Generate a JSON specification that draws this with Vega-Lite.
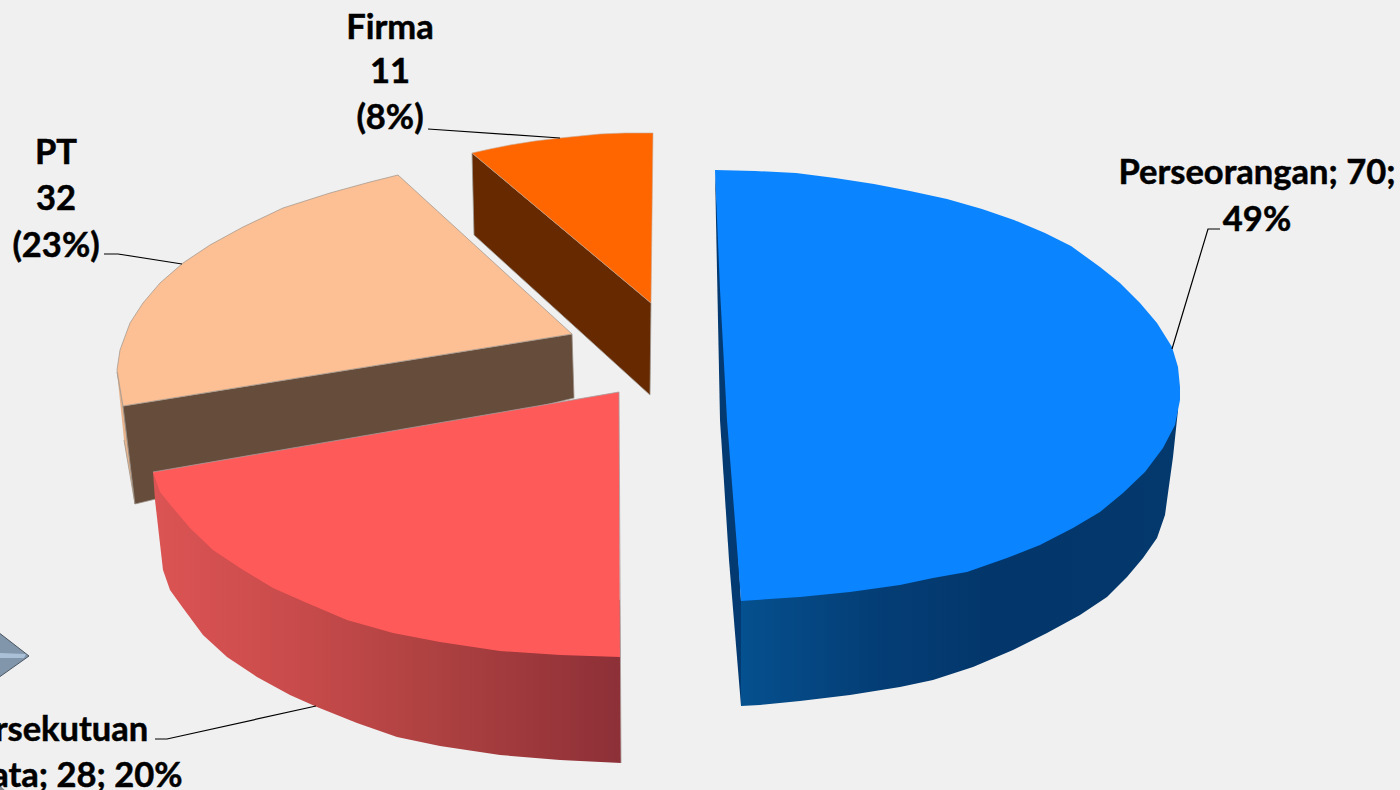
{"$schema":"https://vega.github.io/schema/vega-lite/v6.json","width":1400,"height":790,"autosize":{"type":"none"},"padding":0,"background":"#f0f0f0","view":{"stroke":null},
"data":{"values":[
{"s":"deco","i":0,"x":-2,"y":632},{"s":"deco","i":1,"x":29,"y":656},{"s":"deco","i":2,"x":-2,"y":678},{"s":"deco","i":3,"x":-2,"y":632},
{"s":"deco2","i":0,"x":-2,"y":653},{"s":"deco2","i":1,"x":26,"y":654},{"s":"deco2","i":2,"x":24,"y":658},{"s":"deco2","i":3,"x":-2,"y":658},
{"s":"deco3","i":0,"x":-2,"y":784},{"s":"deco3","i":1,"x":7,"y":792},{"s":"deco3","i":2,"x":-2,"y":792},
{"s":"ptedge","i":0,"x":117,"y":372},{"s":"ptedge","i":1,"x":123,"y":406},{"s":"ptedge","i":2,"x":135,"y":504},{"s":"ptedge","i":3,"x":124,"y":440},
{"s":"ptside","i":0,"x":572,"y":334},{"s":"ptside","i":1,"x":123,"y":406},{"s":"ptside","i":2,"x":135,"y":504},{"s":"ptside","i":3,"x":574,"y":398},{"s":"ptside","i":4,"x":572,"y":334},
{"s":"pttop","i":0,"x":398,"y":175},{"s":"pttop","i":1,"x":572,"y":334},{"s":"pttop","i":2,"x":123,"y":406},{"s":"pttop","i":3,"x":117,"y":370},{"s":"pttop","i":4,"x":120,"y":350},{"s":"pttop","i":5,"x":130,"y":323},{"s":"pttop","i":6,"x":143,"y":303},{"s":"pttop","i":7,"x":160,"y":283},{"s":"pttop","i":8,"x":183,"y":263},{"s":"pttop","i":9,"x":210,"y":245},{"s":"pttop","i":10,"x":243,"y":227},{"s":"pttop","i":11,"x":283,"y":208},{"s":"pttop","i":12,"x":330,"y":193},{"s":"pttop","i":13,"x":370,"y":182},{"s":"pttop","i":14,"x":398,"y":175},
{"s":"firside","i":0,"x":472,"y":153},{"s":"firside","i":1,"x":651,"y":303},{"s":"firside","i":2,"x":650,"y":395},{"s":"firside","i":3,"x":474,"y":235},{"s":"firside","i":4,"x":472,"y":153},
{"s":"firtop","i":0,"x":653,"y":133},{"s":"firtop","i":1,"x":625,"y":133},{"s":"firtop","i":2,"x":600,"y":134},{"s":"firtop","i":3,"x":580,"y":136},{"s":"firtop","i":4,"x":560,"y":138},{"s":"firtop","i":5,"x":535,"y":141},{"s":"firtop","i":6,"x":510,"y":145},{"s":"firtop","i":7,"x":490,"y":149},{"s":"firtop","i":8,"x":472,"y":153},{"s":"firtop","i":9,"x":651,"y":303},{"s":"firtop","i":10,"x":653,"y":133},
{"s":"redside","i":0,"x":153,"y":472},{"s":"redside","i":1,"x":155,"y":500},{"s":"redside","i":2,"x":163,"y":570},{"s":"redside","i":3,"x":170,"y":590},{"s":"redside","i":4,"x":183,"y":608},{"s":"redside","i":5,"x":203,"y":635},{"s":"redside","i":6,"x":227,"y":657},{"s":"redside","i":7,"x":257,"y":677},{"s":"redside","i":8,"x":290,"y":695},{"s":"redside","i":9,"x":317,"y":707},{"s":"redside","i":10,"x":357,"y":723},{"s":"redside","i":11,"x":397,"y":737},{"s":"redside","i":12,"x":440,"y":746},{"s":"redside","i":13,"x":500,"y":755},{"s":"redside","i":14,"x":560,"y":760},{"s":"redside","i":15,"x":621,"y":763},{"s":"redside","i":16,"x":620,"y":600},
{"s":"redtop","i":0,"x":619,"y":392},{"s":"redtop","i":1,"x":153,"y":472},{"s":"redtop","i":2,"x":160,"y":492},{"s":"redtop","i":3,"x":173,"y":508},{"s":"redtop","i":4,"x":190,"y":528},{"s":"redtop","i":5,"x":213,"y":550},{"s":"redtop","i":6,"x":240,"y":568},{"s":"redtop","i":7,"x":273,"y":588},{"s":"redtop","i":8,"x":307,"y":603},{"s":"redtop","i":9,"x":347,"y":620},{"s":"redtop","i":10,"x":393,"y":633},{"s":"redtop","i":11,"x":440,"y":642},{"s":"redtop","i":12,"x":500,"y":651},{"s":"redtop","i":13,"x":560,"y":655},{"s":"redtop","i":14,"x":620,"y":657},{"s":"redtop","i":15,"x":619,"y":392},
{"s":"rededge","i":0,"x":153,"y":472},{"s":"rededge","i":1,"x":619,"y":392},{"s":"rededge","i":2,"x":621,"y":763},
{"s":"bluestrip","i":0,"x":715,"y":171},{"s":"bluestrip","i":1,"x":720,"y":420},{"s":"bluestrip","i":2,"x":729,"y":560},{"s":"bluestrip","i":3,"x":741,"y":706},{"s":"bluestrip","i":4,"x":741,"y":601},
{"s":"blueside","i":0,"x":741,"y":601},{"s":"blueside","i":1,"x":741,"y":706},{"s":"blueside","i":2,"x":760,"y":705},{"s":"blueside","i":3,"x":800,"y":701},{"s":"blueside","i":4,"x":850,"y":695},{"s":"blueside","i":5,"x":900,"y":687},{"s":"blueside","i":6,"x":933,"y":680},{"s":"blueside","i":7,"x":973,"y":667},{"s":"blueside","i":8,"x":1013,"y":650},{"s":"blueside","i":9,"x":1047,"y":633},{"s":"blueside","i":10,"x":1080,"y":615},{"s":"blueside","i":11,"x":1107,"y":597},{"s":"blueside","i":12,"x":1127,"y":577},{"s":"blueside","i":13,"x":1143,"y":558},{"s":"blueside","i":14,"x":1157,"y":538},{"s":"blueside","i":15,"x":1165,"y":515},{"s":"blueside","i":16,"x":1168,"y":493},{"s":"blueside","i":17,"x":1173,"y":457},{"s":"blueside","i":18,"x":1178,"y":410},{"s":"blueside","i":19,"x":1000,"y":400},
{"s":"bluetop","i":0,"x":715,"y":170},{"s":"bluetop","i":1,"x":755,"y":171},{"s":"bluetop","i":2,"x":796,"y":173},{"s":"bluetop","i":3,"x":835,"y":178},{"s":"bluetop","i":4,"x":874,"y":184},{"s":"bluetop","i":5,"x":910,"y":191},{"s":"bluetop","i":6,"x":947,"y":199},{"s":"bluetop","i":7,"x":982,"y":209},{"s":"bluetop","i":8,"x":1014,"y":220},{"s":"bluetop","i":9,"x":1045,"y":233},{"s":"bluetop","i":10,"x":1071,"y":246},{"s":"bluetop","i":11,"x":1100,"y":267},{"s":"bluetop","i":12,"x":1120,"y":283},{"s":"bluetop","i":13,"x":1140,"y":303},{"s":"bluetop","i":14,"x":1157,"y":323},{"s":"bluetop","i":15,"x":1172,"y":347},{"s":"bluetop","i":16,"x":1178,"y":367},{"s":"bluetop","i":17,"x":1180,"y":387},{"s":"bluetop","i":18,"x":1180,"y":400},{"s":"bluetop","i":19,"x":1175,"y":425},{"s":"bluetop","i":20,"x":1163,"y":448},{"s":"bluetop","i":21,"x":1145,"y":472},{"s":"bluetop","i":22,"x":1123,"y":493},{"s":"bluetop","i":23,"x":1100,"y":512},{"s":"bluetop","i":24,"x":1073,"y":528},{"s":"bluetop","i":25,"x":1040,"y":545},{"s":"bluetop","i":26,"x":1007,"y":558},{"s":"bluetop","i":27,"x":967,"y":572},{"s":"bluetop","i":28,"x":933,"y":578},{"s":"bluetop","i":29,"x":900,"y":585},{"s":"bluetop","i":30,"x":850,"y":592},{"s":"bluetop","i":31,"x":800,"y":597},{"s":"bluetop","i":32,"x":741,"y":601},{"s":"bluetop","i":33,"x":738,"y":560},{"s":"bluetop","i":34,"x":727,"y":420},{"s":"bluetop","i":35,"x":720,"y":290},{"s":"bluetop","i":36,"x":715,"y":170},
{"s":"leadA","i":0,"x":428,"y":129},{"s":"leadA","i":1,"x":560,"y":138},
{"s":"leadB","i":0,"x":104,"y":254},{"s":"leadB","i":1,"x":118,"y":254},{"s":"leadB","i":2,"x":182,"y":264},
{"s":"leadC","i":0,"x":155,"y":739},{"s":"leadC","i":1,"x":167,"y":739},{"s":"leadC","i":2,"x":316,"y":706},
{"s":"leadD","i":0,"x":1220,"y":229},{"s":"leadD","i":1,"x":1208,"y":229},{"s":"leadD","i":2,"x":1172,"y":349},
{"s":"label","x":390,"y":29,"text":"Firma"},{"s":"label","x":390,"y":73,"text":"11"},{"s":"label","x":390,"y":119,"text":"(8%)"},
{"s":"label","x":56,"y":154,"text":"PT"},{"s":"label","x":56,"y":200,"text":"32"},{"s":"label","x":56,"y":247,"text":"(23%)"},
{"s":"label","x":1257,"y":174,"text":"Perseorangan; 70;"},{"s":"label","x":1257,"y":221,"text":"49%"},
{"s":"label","x":52,"y":731,"text":"Persekutuan"},{"s":"label","x":74,"y":777,"text":"Data; 28; 20%"}
]},
"encoding":{
"x":{"field":"x","type":"quantitative","scale":{"domain":[0,1400],"nice":false,"zero":false},"axis":null},
"y":{"field":"y","type":"quantitative","scale":{"domain":[790,0],"nice":false,"zero":false},"axis":null},
"order":{"field":"i","type":"quantitative"}
},
"layer":[
{"transform":[{"filter":"datum.s==='deco'"}],"mark":{"type":"line","fill":"#8296ab","stroke":"#4a5662","strokeWidth":1}},
{"transform":[{"filter":"datum.s==='deco2'"}],"mark":{"type":"line","fill":"#a9c0d6","strokeWidth":0}},
{"transform":[{"filter":"datum.s==='deco3'"}],"mark":{"type":"line","fill":"#80868c","strokeWidth":0}},
{"transform":[{"filter":"datum.s==='ptedge'"}],"mark":{"type":"line","fill":"#e8b48e","stroke":"#b0a090","strokeWidth":1}},
{"transform":[{"filter":"datum.s==='ptside'"}],"mark":{"type":"line","fill":"#664c3a","stroke":"#9a9088","strokeWidth":0.8}},
{"transform":[{"filter":"datum.s==='pttop'"}],"mark":{"type":"line","fill":"#fdbf94","stroke":"#a89c90","strokeWidth":0.8}},
{"transform":[{"filter":"datum.s==='firside'"}],"mark":{"type":"line","fill":"#662900","stroke":"#a09a94","strokeWidth":0.8}},
{"transform":[{"filter":"datum.s==='firtop'"}],"mark":{"type":"line","fill":"#ff6600","stroke":"#c8a890","strokeWidth":0.6}},
{"transform":[{"filter":"datum.s==='redside'"}],"mark":{"type":"line","strokeWidth":0,"fill":{"gradient":"linear","x1":0,"y1":0,"x2":1,"y2":0,"stops":[{"offset":0,"color":"#dc5454"},{"offset":0.3,"color":"#c94b4b"},{"offset":0.6,"color":"#ae4141"},{"offset":1,"color":"#8d3037"}]}}},
{"transform":[{"filter":"datum.s==='redtop'"}],"mark":{"type":"line","fill":"#ff5a5a","strokeWidth":0}},
{"transform":[{"filter":"datum.s==='rededge'"}],"mark":{"type":"line","stroke":"#a89a9a","strokeWidth":0.8}},
{"transform":[{"filter":"datum.s==='bluestrip'"}],"mark":{"type":"line","fill":"#033a72","strokeWidth":0}},
{"transform":[{"filter":"datum.s==='blueside'"}],"mark":{"type":"line","strokeWidth":0,"fill":{"gradient":"linear","x1":0,"y1":0,"x2":1,"y2":0,"stops":[{"offset":0,"color":"#05508f"},{"offset":0.3,"color":"#043e76"},{"offset":0.6,"color":"#03366a"},{"offset":1,"color":"#04396d"}]}}},
{"transform":[{"filter":"datum.s==='bluetop'"}],"mark":{"type":"line","fill":"#0a84ff","strokeWidth":0}},
{"transform":[{"filter":"datum.s==='leadA'"}],"mark":{"type":"line","stroke":"#000000","strokeWidth":1.2}},
{"transform":[{"filter":"datum.s==='leadB'"}],"mark":{"type":"line","stroke":"#000000","strokeWidth":1.2}},
{"transform":[{"filter":"datum.s==='leadC'"}],"mark":{"type":"line","stroke":"#000000","strokeWidth":1.2}},
{"transform":[{"filter":"datum.s==='leadD'"}],"mark":{"type":"line","stroke":"#000000","strokeWidth":1.2}},
{"transform":[{"filter":"datum.s==='label'"}],"mark":{"type":"text","font":"Lato","fontWeight":"bold","fontSize":34.5,"align":"center","baseline":"middle","color":"#000000","stroke":"#000000","strokeWidth":0.5},"encoding":{"text":{"field":"text","type":"nominal"},"order":null}}
]}
